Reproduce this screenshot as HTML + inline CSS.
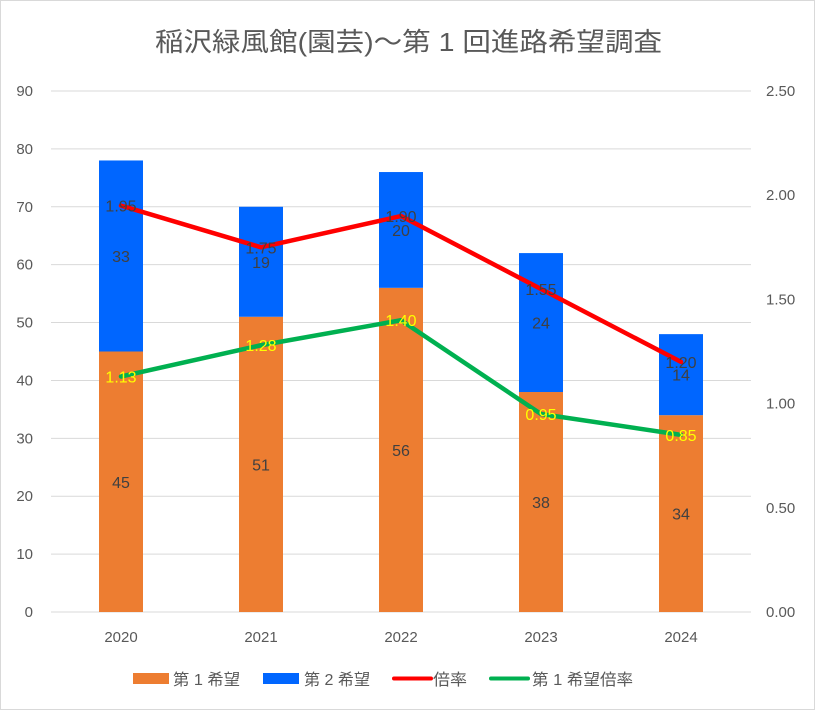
<!DOCTYPE html>
<html><head><meta charset="utf-8"><style>
html,body{margin:0;padding:0;background:#fff}
svg{display:block;font-family:"Liberation Sans","Noto Sans CJK JP",sans-serif}
</style></head><body>
<svg id="chart" width="815" height="710" viewBox="0 0 815 710">
<rect x="0.5" y="0.5" width="814" height="709" fill="#fff" stroke="#d9d9d9"/>
<text x="155" y="51" textLength="507" lengthAdjust="spacingAndGlyphs" font-size="26" fill="#595959">稲沢緑風館(園芸)～第 1 回進路希望調査</text>
<g id="grid"></g><g id="bars"></g><g id="lines"></g><g id="labels"></g><g id="axes"></g>
<g font-size="16" fill="#595959">
<rect x="133" y="673" width="36" height="11" fill="#ED7D31"/>
<text x="173" y="685" textLength="67" lengthAdjust="spacingAndGlyphs">第 1 希望</text>
<rect x="263" y="673" width="36" height="11" fill="#0066FF"/>
<text x="304" y="685" textLength="66" lengthAdjust="spacingAndGlyphs">第 2 希望</text>
<line x1="394" y1="678.5" x2="431" y2="678.5" stroke="#FF0000" stroke-width="4" stroke-linecap="round"/>
<text x="433" y="685" textLength="34" lengthAdjust="spacingAndGlyphs">倍率</text>
<line x1="491" y1="678.5" x2="528" y2="678.5" stroke="#00B050" stroke-width="4" stroke-linecap="round"/>
<text x="532" y="685" textLength="101" lengthAdjust="spacingAndGlyphs">第 1 希望倍率</text>
</g>
</svg>
<script>
const categories=["2020","2021","2022","2023","2024"];
const first=[45,51,56,38,34];
const second=[33,19,20,24,14];
const ratio=[1.95,1.75,1.90,1.55,1.20];
const firstRatio=[1.13,1.28,1.40,0.95,0.85];
const leftTicks=[0,10,20,30,40,50,60,70,80,90];
const rightTicks=["0.00","0.50","1.00","1.50","2.00","2.50"];
const NS="http://www.w3.org/2000/svg";
const x0=51,x1=751,yB=612,yT=91,bw=44;
const step=(x1-x0)/categories.length;
const cx=i=>x0+step*(i+0.5);
const yL=v=>yB-(v/90)*(yB-yT);
const yR=v=>yB-(v/2.5)*(yB-yT);
function mk(tag,attrs,parent){const e=document.createElementNS(NS,tag);for(const k in attrs)e.setAttribute(k,attrs[k]);document.getElementById(parent).appendChild(e);return e;}
leftTicks.forEach(t=>{
 const g=mk("line",{x1:x0,x2:x1,y1:yL(t),y2:yL(t),stroke:"#d9d9d9","stroke-width":1},"grid");
 
 
 const tx=mk("text",{x:33,y:yL(t)+5,"text-anchor":"end","font-size":15,fill:"#595959"},"axes");
 tx.textContent=t;
 
 
});
rightTicks.forEach(t=>{
 const tx=mk("text",{x:766,y:yR(+t)+5,"font-size":15,fill:"#595959"},"axes");
 tx.textContent=t;
 
 
});
categories.forEach((c,i)=>{
 const tx=mk("text",{x:cx(i),y:642,"text-anchor":"middle","font-size":15,fill:"#595959"},"axes");
 tx.textContent=c;
 
 
 const b1=mk("rect",{x:cx(i)-bw/2,y:yL(first[i]),width:bw,height:yB-yL(first[i]),fill:"#ED7D31"},"bars");
 
 
 const b2=mk("rect",{x:cx(i)-bw/2,y:yL(first[i]+second[i]),width:bw,height:yL(first[i])-yL(first[i]+second[i]),fill:"#0066FF"},"bars");
 
 
 const l1=mk("text",{x:cx(i),y:yL(first[i]/2)+6,"text-anchor":"middle","font-size":16,fill:"#404040"},"labels");
 l1.textContent=first[i];
 
 
 const l2=mk("text",{x:cx(i),y:yL(first[i]+second[i]/2)+6,"text-anchor":"middle","font-size":16,fill:"#404040"},"labels");
 l2.textContent=second[i];
 
 
 const l3=mk("text",{x:cx(i),y:yR(ratio[i])+6,"text-anchor":"middle","font-size":16,fill:"#404040"},"labels");
 l3.textContent=ratio[i].toFixed(2);
 
 
 const l4=mk("text",{x:cx(i),y:yR(firstRatio[i])+6,"text-anchor":"middle","font-size":16,fill:"#FFFF00"},"labels");
 l4.textContent=firstRatio[i].toFixed(2);
 
 
});
const p1=mk("polyline",{points:ratio.map((v,i)=>cx(i)+","+yR(v)).join(" "),fill:"none",stroke:"#FF0000","stroke-width":4.5,"stroke-linecap":"round","stroke-linejoin":"round"},"lines");


const p2=mk("polyline",{points:firstRatio.map((v,i)=>cx(i)+","+yR(v)).join(" "),fill:"none",stroke:"#00B050","stroke-width":4.5,"stroke-linecap":"round","stroke-linejoin":"round"},"lines");


</script>
</body></html>
